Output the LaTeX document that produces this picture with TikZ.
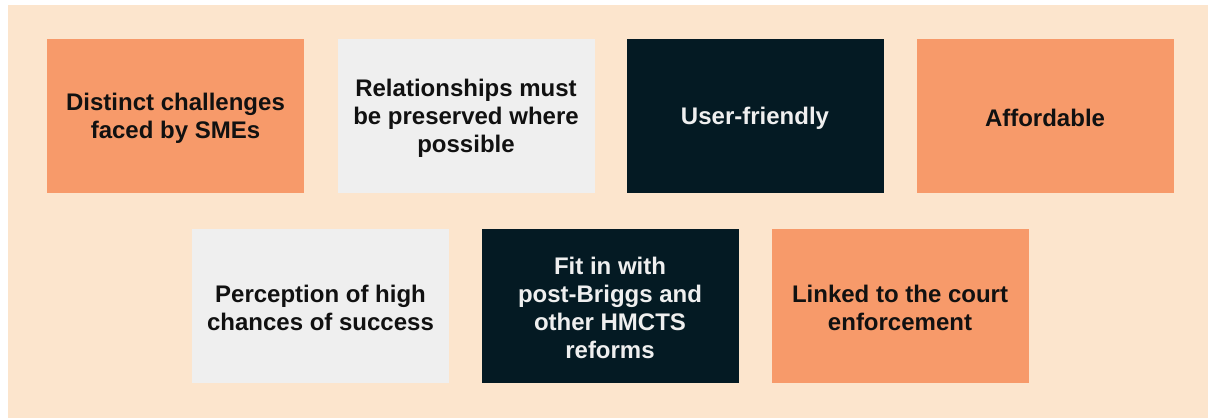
\documentclass[tikz,border=0pt]{standalone}
\usepackage{fontspec}
\setmainfont{Liberation Sans}
\definecolor{peach}{HTML}{FCE5CD}
\definecolor{salmon}{HTML}{F79A6A}
\definecolor{paleGrey}{HTML}{EFEFEF}
\definecolor{ink}{HTML}{041A23}
\definecolor{darkText}{HTML}{111111}
\begin{document}
\begin{tikzpicture}[x=0.5pt,y=-0.5pt,
  card/.style={rectangle, minimum width=128.5pt, minimum height=77pt,
    inner sep=0pt, outer sep=0pt, align=center,
    font=\bfseries\fontsize{12}{14}\selectfont},
  warm/.style={card, fill=salmon, text=darkText},
  light/.style={card, fill=paleGrey, text=darkText},
  dark/.style={card, fill=ink, text=paleGrey},
  lbl/.style={align=center, inner sep=0pt,
    font=\bfseries\fontsize{12}{14}\selectfont}]
  % page and backdrop
  \fill[white] (0,0) rectangle (1208,418);
  \fill[peach] (8,5) rectangle (1208,418);
  \useasboundingbox (0,0) rectangle (1208,418);
  % top row
  \node[warm]  (smes)  at (175.5,116) {};
  \node[light] (rel)   at (466,116)   {};
  \node[dark]  (user)  at (755,116)   {};
  \node[warm]  (aff)   at (1045,116)  {};
  % bottom row
  \node[light] (perc)  at (320.5,306) {};
  \node[dark]  (fit)   at (610,306)   {};
  \node[warm]  (court) at (900,306)   {};
  % captions, set a touch below each card's centre
  \node[lbl, text=darkText] (smesT)  at ([yshift=-1pt]smes.center)  {Distinct challenges\\faced by SMEs};
  \node[lbl, text=darkText] (relT)   at ([yshift=-1pt]rel.center)   {Relationships must\\be preserved where\\possible};
  \node[lbl, text=paleGrey] (userT)  at ([yshift=-1pt]user.center)  {User-friendly};
  \node[lbl, text=darkText] (affT)   at ([yshift=-1pt]aff.center)   {Affordable};
  \node[lbl, text=darkText] (percT)  at ([yshift=-1pt]perc.center)  {Perception of high\\chances of success};
  \node[lbl, text=paleGrey] (fitT)   at ([yshift=-1pt]fit.center)   {Fit in with\\post-Briggs and\\other HMCTS\\reforms};
  \node[lbl, text=darkText] (courtT) at ([yshift=-1pt]court.center) {Linked to the court\\enforcement};
\end{tikzpicture}
\end{document}
